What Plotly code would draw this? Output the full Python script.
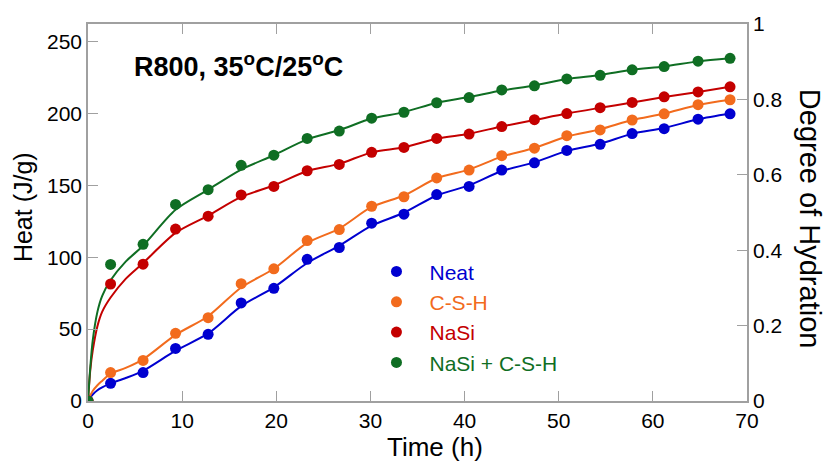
import plotly.graph_objects as go

time_h = [0, 2.4, 5.85, 9.3, 12.76, 16.27, 19.74, 23.28, 26.69, 30.13, 33.56,
          37.04, 40.48, 43.95, 47.42, 50.86, 54.4, 57.8, 61.2, 64.8, 68.2]
neat = [0, 12.3, 19.8, 36.6, 46.4, 68.2, 78.4, 98.6, 106.8, 123.7, 130.0,
        143.6, 149.3, 160.7, 165.7, 174.3, 178.6, 186.1, 189.5, 196.1, 199.8]
csh = [0, 19.8, 28.2, 47.1, 58.0, 81.6, 92.0, 111.6, 119.3, 135.5, 142.1,
       155.2, 160.7, 170.7, 175.9, 184.6, 188.6, 195.5, 199.8, 206.2, 209.6]
nasi = [0, 81.4, 95.2, 119.6, 128.6, 143.4, 149.3, 160.2, 164.6, 173.0, 176.4,
        182.7, 185.7, 190.9, 195.7, 200.0, 204.1, 207.7, 211.6, 215.0, 218.6]
nasi_csh = [0, 95.0, 109.0, 136.8, 147.0, 164.0, 171.0, 182.7, 187.8, 196.8, 200.9,
            207.5, 211.1, 216.4, 219.3, 224.1, 226.6, 230.4, 232.7, 236.4, 238.4]

fit_time = [0, 0.25, 0.5, 1, 1.5, 2.4, 4, 5.85, 9.3, 12.76, 16.27, 19.74, 23.28,
            26.69, 30.13, 33.56, 37.04, 40.48, 43.95, 47.42, 50.86, 54.4, 57.8,
            61.2, 64.8, 68.2]
fit_neat = [0, 2.5, 4.5, 7.5, 9.5, 12.3, 16, 21, 35, 47, 66, 79, 96, 108, 122,
            131, 143, 150, 160, 166, 174, 179, 186, 190, 196, 200]
fit_csh = [0, 4, 7, 11, 14, 19, 23, 29, 46, 59, 79, 92, 110, 120, 135, 143, 155,
           161, 170, 176, 184, 189, 195.5, 200, 206, 209.6]
fit_nasi = [0, 22, 35, 52, 62, 72, 85, 96, 117, 129, 142, 150, 160, 165, 173,
            176.5, 182.5, 186, 191, 195.5, 200, 204, 207.7, 211.5, 215, 218.6]
fit_nasi_csh = [0, 24, 42, 62, 73, 84, 97, 108, 133, 147, 161, 171, 182, 188.5,
                196.5, 201, 207.5, 211.5, 216, 219.5, 224, 226.8, 230.4, 232.8,
                236.3, 238.4]

names = ["Neat", "C-S-H", "NaSi", "NaSi + C-S-H"]
colors = ["#0000D0", "#F26B1D", "#C40000", "#0F6E23"]
points = [neat, csh, nasi, nasi_csh]
fits = [fit_neat, fit_csh, fit_nasi, fit_nasi_csh]

x_ticks = [0, 10, 20, 30, 40, 50, 60, 70]
y_ticks = [0, 50, 100, 150, 200, 250]
y2_ticks = [0, 0.2, 0.4, 0.6, 0.8, 1]
y2_labels = ["0", "0.2", "0.4", "0.6", "0.8", "1"]

FONT = "Arial, Liberation Sans, sans-serif"
AX = "#A0A0A0"
TICK_SIZE = 21

fig = go.Figure()
for name, col, fy in zip(names, colors, fits):
    fig.add_trace(go.Scatter(x=fit_time, y=fy, mode="lines",
                             line=dict(color=col, width=2, shape="spline", smoothing=0.8),
                             showlegend=False, hoverinfo="skip"))
for i, (name, col, py) in enumerate(zip(names, colors, points)):
    fig.add_trace(go.Scatter(x=time_h, y=py, mode="markers",
                             marker=dict(color=col, size=11),
                             name=f"<span style='color:{col}'>{name}</span>",
                             legendgroup=f"g{i}"))
# invisible trace for right axis
fig.add_trace(go.Scatter(x=[0], y=[0], yaxis="y2", mode="markers",
                         marker=dict(opacity=0), showlegend=False, hoverinfo="skip"))

fig.update_layout(
    width=828, height=466,
    margin=dict(l=88, r=81, t=16, b=65),
    paper_bgcolor="white", plot_bgcolor="white",
    font=dict(family=FONT, color="black", size=TICK_SIZE),
    xaxis=dict(range=[0, 70], tickvals=x_ticks, ticks="inside", ticklen=10,
               tickcolor=AX, showline=True, linecolor=AX, linewidth=1.5,
               mirror="ticks", showgrid=False, zeroline=False,
               tickfont=dict(size=TICK_SIZE)),
    yaxis=dict(range=[0, 262.3], tickvals=y_ticks, ticks="inside", ticklen=10,
               tickcolor=AX, showline=True, linecolor=AX, linewidth=1.5,
               showgrid=False, zeroline=False, tickfont=dict(size=TICK_SIZE)),
    yaxis2=dict(range=[0, 1], tickvals=y2_ticks, ticktext=y2_labels,
                overlaying="y", side="right", ticks="inside", ticklen=10,
                tickcolor=AX, showline=True, linecolor=AX, linewidth=1.5,
                showgrid=False, zeroline=False, tickfont=dict(size=TICK_SIZE)),
    legend=dict(x=0.418, y=0.397, xanchor="left", yanchor="top",
                font=dict(size=21), bgcolor="rgba(0,0,0,0)",
                tracegroupgap=0, itemwidth=56),
    showlegend=True,
)
fig.add_annotation(text="<b>R800, 35<sup>o</sup>C/25<sup>o</sup>C</b>",
                   x=(132 - 88) / 659, y=(401 - 58) / 385, xref="paper", yref="paper",
                   xanchor="left", yanchor="middle", showarrow=False,
                   font=dict(size=27, family=FONT))
fig.add_annotation(text="Heat (J/g)", x=(23 - 88) / 659, y=(401 - 203) / 385,
                   xref="paper", yref="paper", textangle=-90, showarrow=False,
                   xanchor="center", yanchor="middle", font=dict(size=25, family=FONT))
fig.add_annotation(text="Time (h)", x=(435 - 88) / 659, y=(401 - 448) / 385,
                   xref="paper", yref="paper", showarrow=False,
                   xanchor="center", yanchor="middle", font=dict(size=26, family=FONT))
fig.add_annotation(text="Degree of Hydration", x=(810 - 88) / 659, y=(401 - 215) / 385,
                   xref="paper", yref="paper", textangle=90, showarrow=False,
                   xanchor="center", yanchor="middle", font=dict(size=29, family=FONT))

fig.write_html("out.html")
